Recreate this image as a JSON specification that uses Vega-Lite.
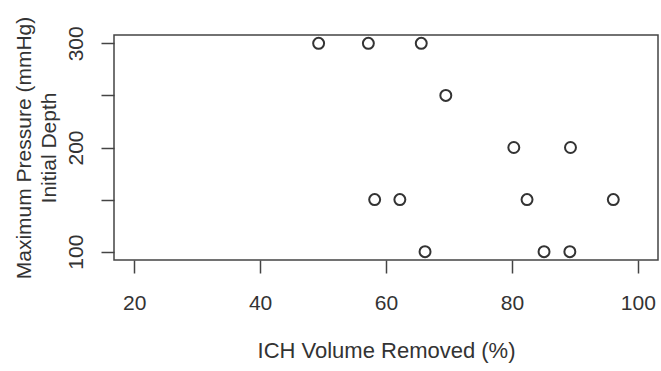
{
  "$schema": "https://vega.github.io/schema/vega-lite/v6.json",
  "autosize": "none",
  "width": 544,
  "height": 225,
  "padding": {"left": 114, "top": 35, "right": 3, "bottom": 111},
  "background": "white",
  "config": {
    "view": {"stroke": "#444", "strokeWidth": 1.5},
    "font": "Liberation Sans"
  },
  "data": {
    "values": [
      {"removed": 49.3, "pressure": 300},
      {"removed": 57.2, "pressure": 300},
      {"removed": 65.6, "pressure": 300},
      {"removed": 69.5, "pressure": 250},
      {"removed": 80.3, "pressure": 200},
      {"removed": 89.3, "pressure": 200},
      {"removed": 58.2, "pressure": 150},
      {"removed": 62.2, "pressure": 150},
      {"removed": 82.4, "pressure": 150},
      {"removed": 96.1, "pressure": 150},
      {"removed": 66.2, "pressure": 100},
      {"removed": 85.1, "pressure": 100},
      {"removed": 89.2, "pressure": 100}
    ]
  },
  "mark": {"type": "point", "shape": "circle", "filled": false, "stroke": "#333", "strokeWidth": 2, "size": 120, "opacity": 1},
  "encoding": {
    "x": {
      "field": "removed",
      "type": "quantitative",
      "scale": {"domain": [16.8, 103.2], "nice": false, "zero": false},
      "axis": {
        "title": "ICH Volume Removed (%)",
        "values": [20, 40, 60, 80, 100],
        "grid": false,
        "domain": false,
        "tickSize": 13,
        "tickColor": "#444",
        "tickWidth": 1.5,
        "labelFontSize": 21,
        "labelColor": "#333",
        "labelPadding": 19,
        "labelFont": "Liberation Sans",
        "titleFont": "Liberation Sans",
        "titleFontSize": 22,
        "titleFontWeight": "normal",
        "titleColor": "#333",
        "titlePadding": 27
      }
    },
    "y": {
      "field": "pressure",
      "type": "quantitative",
      "scale": {"domain": [92, 308], "nice": false, "zero": false},
      "axis": {
        "title": ["Maximum Pressure (mmHg)", "Initial Depth"],
        "values": [100, 150, 200, 250, 300],
        "labelExpr": "datum.value % 100 == 0 ? datum.label : ''",
        "labelOverlap": false,
        "grid": false,
        "domain": false,
        "tickSize": 13,
        "tickColor": "#444",
        "tickWidth": 1.5,
        "labelAngle": -90,
        "labelAlign": "center",
        "labelBaseline": "alphabetic",
        "labelFontSize": 21,
        "labelColor": "#333",
        "labelPadding": 19,
        "labelFont": "Liberation Sans",
        "titleFont": "Liberation Sans",
        "titleFontSize": 21,
        "titleFontWeight": "normal",
        "titleColor": "#333",
        "titleLineHeight": 25,
        "titlePadding": 6
      }
    }
  }
}
